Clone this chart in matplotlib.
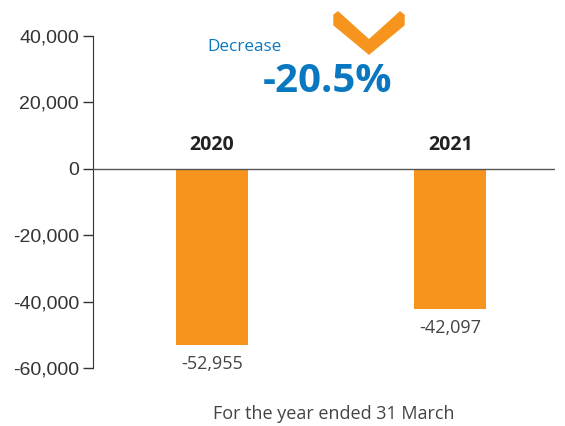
# Year-on-year result bar chart with decrease badge

import matplotlib.pyplot as plt
from matplotlib.patches import Polygon
from matplotlib.ticker import FuncFormatter

years = ["2020", "2021"]
values = [-52955, -42097]
value_labels = ["-52,955", "-42,097"]
change_label = "-20.5%"

orange = "#F7941D"
blue = "#0A78C0"
grey = "#333333"

fig = plt.figure(figsize=(5.65, 4.26), dpi=100)
ax = fig.add_axes([93 / 565, 1 - 368 / 426, 462 / 565, 332 / 426])

x = list(range(len(years)))
ax.bar(x, values, width=0.30, color=orange, zorder=2)
ax.set_xlim(-0.5, 1.44)
ax.set_ylim(-60000, 40000)
ax.set_yticks(range(-60000, 40001, 20000))
ax.yaxis.set_major_formatter(FuncFormatter(lambda v, p: f"{int(v):,}"))
ax.tick_params(axis="y", length=7, width=1, color=grey, labelcolor=grey,
               labelsize=14, pad=3)
ax.set_xticks([])
for s in ["top", "right", "bottom"]:
    ax.spines[s].set_visible(False)
ax.spines["left"].set_color(grey)
ax.axhline(0, color="#555555", lw=1, zorder=3)
for lab in ax.get_yticklabels():
    lab.set_family("Liberation Sans")

for xi, yr, v, lab in zip(x, years, values, value_labels):
    ax.text(xi, 4300, yr, ha="center", va="bottom", fontsize=14,
            fontweight="bold", color="#222222", family="Open Sans")
    ax.text(xi, v - 3000, lab, ha="center", va="top", fontsize=13,
            color="#444444", family="Open Sans")

fig.text(334 / 565, 1 - 414 / 426, "For the year ended 31 March", ha="center",
         va="center", fontsize=13, color="#444444", family="Open Sans")

# decrease badge
fig.text(207 / 565, 1 - 47 / 426, "Decrease", ha="left", va="center",
         fontsize=12.3, color=blue, family="Open Sans")
fig.text(327 / 565, 1 - 81 / 426, change_label, ha="center", va="center",
         fontsize=29, fontweight="bold", color=blue, family="Open Sans")
chev = [(334, 15), (338, 12), (369, 40), (400, 12), (404, 15), (404, 25),
        (369, 54), (334, 25)]
fig.patches.append(Polygon([(px / 565, 1 - py / 426) for px, py in chev],
                           closed=True, color=orange, transform=fig.transFigure))

fig.savefig("out.png", dpi=100)
